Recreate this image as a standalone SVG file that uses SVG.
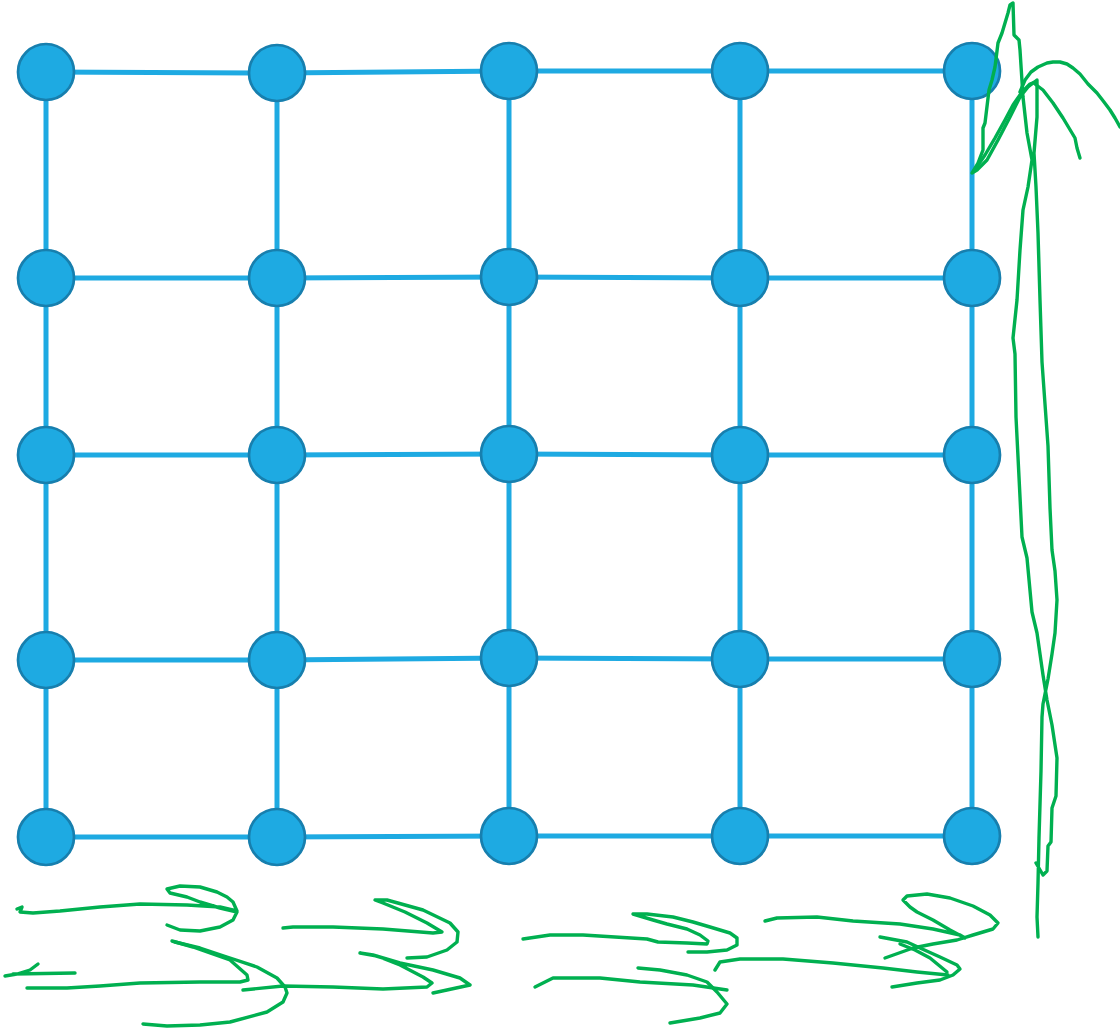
<svg xmlns="http://www.w3.org/2000/svg" width="1120" height="1031" viewBox="0 0 1120 1031">
<style>
.e{stroke:#1eaae2;stroke-width:5;fill:none}
.n{fill:#1eaae2;stroke:#177fae;stroke-width:2.7}
.g{fill:none;stroke:#00b050;stroke-width:3.4;stroke-linecap:round;stroke-linejoin:round}
</style>
<rect width="1120" height="1031" fill="#ffffff"/>
<g id="connectors">
<line class="e" x1="46" y1="72" x2="277" y2="73"/><line class="e" x1="277" y1="73" x2="509" y2="71"/><line class="e" x1="509" y1="71" x2="740" y2="71"/><line class="e" x1="740" y1="71" x2="972" y2="71"/>
<line class="e" x1="46" y1="278" x2="277" y2="278"/><line class="e" x1="277" y1="278" x2="509" y2="277"/><line class="e" x1="509" y1="277" x2="740" y2="278"/><line class="e" x1="740" y1="278" x2="972" y2="278"/>
<line class="e" x1="46" y1="455" x2="277" y2="455"/><line class="e" x1="277" y1="455" x2="509" y2="454"/><line class="e" x1="509" y1="454" x2="740" y2="455"/><line class="e" x1="740" y1="455" x2="972" y2="455"/>
<line class="e" x1="46" y1="660" x2="277" y2="660"/><line class="e" x1="277" y1="660" x2="509" y2="658"/><line class="e" x1="509" y1="658" x2="740" y2="659"/><line class="e" x1="740" y1="659" x2="972" y2="659"/>
<line class="e" x1="46" y1="837" x2="277" y2="837"/><line class="e" x1="277" y1="837" x2="509" y2="836"/><line class="e" x1="509" y1="836" x2="740" y2="836"/><line class="e" x1="740" y1="836" x2="972" y2="836"/>
<line class="e" x1="46" y1="72" x2="46" y2="278"/><line class="e" x1="46" y1="278" x2="46" y2="455"/><line class="e" x1="46" y1="455" x2="46" y2="660"/><line class="e" x1="46" y1="660" x2="46" y2="837"/>
<line class="e" x1="277" y1="73" x2="277" y2="278"/><line class="e" x1="277" y1="278" x2="277" y2="455"/><line class="e" x1="277" y1="455" x2="277" y2="660"/><line class="e" x1="277" y1="660" x2="277" y2="837"/>
<line class="e" x1="509" y1="71" x2="509" y2="277"/><line class="e" x1="509" y1="277" x2="509" y2="454"/><line class="e" x1="509" y1="454" x2="509" y2="658"/><line class="e" x1="509" y1="658" x2="509" y2="836"/>
<line class="e" x1="740" y1="71" x2="740" y2="278"/><line class="e" x1="740" y1="278" x2="740" y2="455"/><line class="e" x1="740" y1="455" x2="740" y2="659"/><line class="e" x1="740" y1="659" x2="740" y2="836"/>
<line class="e" x1="972" y1="71" x2="972" y2="278"/><line class="e" x1="972" y1="278" x2="972" y2="455"/><line class="e" x1="972" y1="455" x2="972" y2="659"/><line class="e" x1="972" y1="659" x2="972" y2="836"/>
</g>
<g id="n11"><circle class="n" cx="46" cy="72" r="28"/></g>
<g id="n12"><circle class="n" cx="277" cy="73" r="28"/></g>
<g id="n13"><circle class="n" cx="509" cy="71" r="28"/></g>
<g id="n14"><circle class="n" cx="740" cy="71" r="28"/></g>
<g id="n15"><circle class="n" cx="972" cy="71" r="28"/></g>
<g id="n21"><circle class="n" cx="46" cy="278" r="28"/></g>
<g id="n22"><circle class="n" cx="277" cy="278" r="28"/></g>
<g id="n23"><circle class="n" cx="509" cy="277" r="28"/></g>
<g id="n24"><circle class="n" cx="740" cy="278" r="28"/></g>
<g id="n25"><circle class="n" cx="972" cy="278" r="28"/></g>
<g id="n31"><circle class="n" cx="46" cy="455" r="28"/></g>
<g id="n32"><circle class="n" cx="277" cy="455" r="28"/></g>
<g id="n33"><circle class="n" cx="509" cy="454" r="28"/></g>
<g id="n34"><circle class="n" cx="740" cy="455" r="28"/></g>
<g id="n35"><circle class="n" cx="972" cy="455" r="28"/></g>
<g id="n41"><circle class="n" cx="46" cy="660" r="28"/></g>
<g id="n42"><circle class="n" cx="277" cy="660" r="28"/></g>
<g id="n43"><circle class="n" cx="509" cy="658" r="28"/></g>
<g id="n44"><circle class="n" cx="740" cy="659" r="28"/></g>
<g id="n45"><circle class="n" cx="972" cy="659" r="28"/></g>
<g id="n51"><circle class="n" cx="46" cy="837" r="28"/></g>
<g id="n52"><circle class="n" cx="277" cy="837" r="28"/></g>
<g id="n53"><circle class="n" cx="509" cy="836" r="28"/></g>
<g id="n54"><circle class="n" cx="740" cy="836" r="28"/></g>
<g id="n55"><circle class="n" cx="972" cy="836" r="28"/></g>
<g id="scribbles">
<path class="g" d="M1038,937 L1037,917 L1038,883 L1039,838 L1041,771 L1042,717 L1043,704 L1048,679 L1052,654 L1055,633 L1057,600 L1055,571 L1052,550 L1050,508 L1048,446 L1045,404 L1042,362 L1040,300 L1038,233 L1036,187 L1034,153 L1037,117 L1037,87 L1037,80 L1028,87 L1020,97 L1010,117 L998,140 L987,160 L977,170 L972,173 L978,163 L983,150 L983,128 L985,123 L989,90 L992,80 L995,67 L998,43 L1002,33 L1008,13 L1010,5 L1013,3 L1014,35 L1019,40 L1020,50 L1023,97 L1027,133 L1032,160 L1028,187 L1023,210 L1020,250 L1017,300 L1013,338 L1015,354 L1016,417 L1022,537 L1027,558 L1032,612 L1037,633 L1043,675 L1047,700 L1052,725 L1057,758 L1056,796 L1052,808 L1051,842 L1048,846 L1047,871 L1043,875 L1036,863"/>
<path class="g" d="M974,171 L985,155 L995,138 L1005,120 L1013,105 L1022,92 L1030,84 L1035,82"/>
<path class="g" d="M1020,92 L1025,80 L1031,72 L1038,67 L1047,63 L1053,62 L1060,62 L1067,64 L1073,68 L1080,74 L1088,84 L1097,93 L1104,102 L1110,110 L1115,118 L1120,127"/>
<path class="g" d="M1035,84 L1043,90 L1053,103 L1063,118 L1072,133 L1075,138 L1077,148 L1080,158"/>
<path class="g" d="M17,909 L22,907 L20,912 L33,913 L60,911 L100,907 L140,904 L187,905 L220,907 L237,911 L233,902 L227,897 L217,892 L200,887 L180,886 L167,889 L170,893 L187,897 L200,902 L220,908 L237,912 L233,920 L220,927 L200,931 L180,930 L167,925"/>
<path class="g" d="M172,941 L193,947 L210,953 L230,960 L247,975 L248,980 L240,982 L200,982 L140,983 L100,986 L67,988 L27,988"/>
<path class="g" d="M175,942 L200,948 L227,957 L257,967 L277,978 L285,987 L287,993 L283,1002 L267,1012 L230,1022 L200,1025 L167,1026 L143,1024"/>
<path class="g" d="M5,976 L17,974 L30,970 L38,964 M13,974 L75,973"/>
<path class="g" d="M283,928 L293,927 L333,927 L383,929 L433,933 L442,932 L427,923 L405,912 L383,903 L375,900 L387,900 L423,910 L450,923 L458,932 L457,942 L447,950 L427,957 L407,958"/>
<path class="g" d="M243,990 L283,986 L333,987 L383,989 L427,987 L432,983 L423,977 L400,965 L377,956 L360,953 L373,955 L400,963 L433,970 L460,978 L470,985 L433,993"/>
<path class="g" d="M523,939 L550,935 L583,935 L647,939 L658,942 L687,943 L707,944 L708,941 L700,935 L687,929 L667,924 L653,920 L633,914 L647,914 L673,917 L693,922 L710,927 L730,933 L737,938 L737,945 L727,950 L707,952 L688,952"/>
<path class="g" d="M535,987 L553,978 L600,978 L640,982 L693,985 L727,990"/>
<path class="g" d="M638,968 L660,970 L687,975 L707,982 L717,992 L727,1004 L720,1013 L700,1018 L670,1023"/>
<path class="g" d="M765,921 L777,918 L817,917 L853,921 L900,924 L933,929 L960,935 L965,938 L950,930 L933,920 L917,912 L910,907 L903,900 L907,896 L927,894 L950,898 L973,906 L990,915 L998,923 L993,929 L973,935 L957,940 L933,944 L913,948 L885,958"/>
<path class="g" d="M880,937 L907,942 L920,948 L940,957 L957,965 L960,969 L953,975 L940,980 L917,983 L892,987"/>
<path class="g" d="M715,970 L720,962 L740,959 L783,959 L833,963 L883,968 L917,972 L948,975"/>
<path class="g" d="M900,944 L915,950 L930,958 L947,972"/>
</g>
</svg>
